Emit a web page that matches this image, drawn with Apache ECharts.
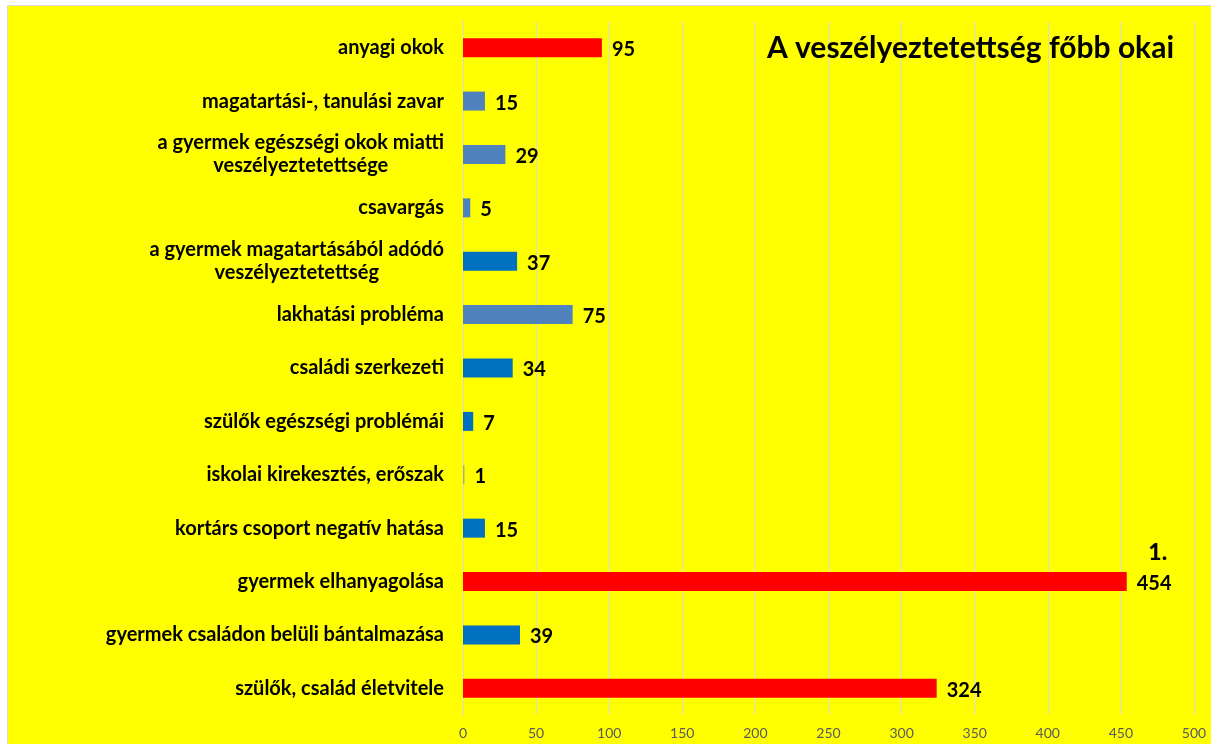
<!DOCTYPE html>
<html>
<head>
<meta charset="utf-8">
<script src="https://cdn.jsdelivr.net/npm/echarts@6/dist/echarts.min.js"></script>
<style>
  html, body { margin: 0; padding: 0; background: #fff; }
  #chart {
    position: absolute; left: 7px; top: 5px;
    width: 1203px; height: 738px;
    border-left: 1px solid #d9d9d9; border-top: 1px solid #d9d9d9;
    background: #ffff00;
  }
</style>
</head>
<body>
<div id="chart"></div>
<script>
// kategóriák felülről lefelé
const categories = [
  'anyagi okok',
  'magatartási-, tanulási zavar',
  'a gyermek egészségi okok miatti\nveszélyeztetettsége',
  'csavargás',
  'a gyermek magatartásából adódó\nveszélyeztetettség',
  'lakhatási probléma',
  'családi szerkezeti',
  'szülők egészségi problémái',
  'iskolai kirekesztés, erőszak',
  'kortárs csoport negatív hatása',
  'gyermek elhanyagolása',
  'gyermek családon belüli bántalmazása',
  'szülők, család életvitele'
]
const values = [95, 15, 29, 5, 37, 75, 34, 7, 1, 15, 454, 39, 324]
const barColors = [
  '#ff0000', '#4f81bd', '#4f81bd', '#4f81bd', '#0070c0', '#4f81bd', '#0070c0',
  '#0070c0', '#a6a6a6', '#0070c0', '#ff0000', '#0070c0', '#ff0000'
]
const xTicks = { min: 0, max: 500, interval: 50 }

const chart = echarts.init(document.getElementById('chart'))

const option = {
  animation: false,
  title: {
    text: 'A veszélyeztetettség főbb okai',
    right: 32,
    top: 22,
    textStyle: { fontFamily: 'Lato', fontWeight: 'bold', fontSize: 30, color: '#000' }
  },
  grid: { left: 455, right: 17, top: 15, bottom: 29 },
  xAxis: {
    type: 'value',
    min: xTicks.min,
    max: xTicks.max,
    interval: xTicks.interval,
    axisLine: { show: false },
    axisTick: { show: false },
    splitLine: { lineStyle: { color: '#d9d9d9', width: 1 } },
    axisLabel: { color: '#595959', fontFamily: 'Lato', fontSize: 14, margin: 11 }
  },
  yAxis: {
    type: 'category',
    inverse: true,
    data: categories,
    axisLine: { lineStyle: { color: '#d9d9d9' } },
    axisTick: { show: false },
    axisLabel: {
      margin: 19,
      formatter: (v) => v.split('\n').map((s) => '{c|' + s + '}').join('\n'),
      rich: {
        c: { fontFamily: 'Lato', fontWeight: 'bold', fontSize: 20, color: '#000', align: 'center', lineHeight: 23 }
      }
    }
  },
  series: [
    {
      type: 'bar',
      data: values.map((v, i) => ({ value: v, itemStyle: { color: barColors[i] } })),
      barWidth: 19,
      label: {
        show: true,
        position: 'right',
        distance: 10,
        fontFamily: 'Lato',
        fontWeight: 'bold',
        fontSize: 20,
        color: '#000',
        offset: [0, 2]
      },
      markPoint: {
        symbol: 'circle',
        symbolSize: 1,
        itemStyle: { color: 'rgba(0,0,0,0)' },
        label: {
          show: true,
          position: 'inside',
          formatter: '{b|1.}',
          offset: [31, -29],
          rich: {
            b: { fontFamily: 'Lato', fontWeight: 900, fontSize: 23, color: '#000' }
          }
        },
        data: [{ coord: [454, 10] }]
      }
    }
  ]
}

chart.setOption(option)
</script>
</body>
</html>
